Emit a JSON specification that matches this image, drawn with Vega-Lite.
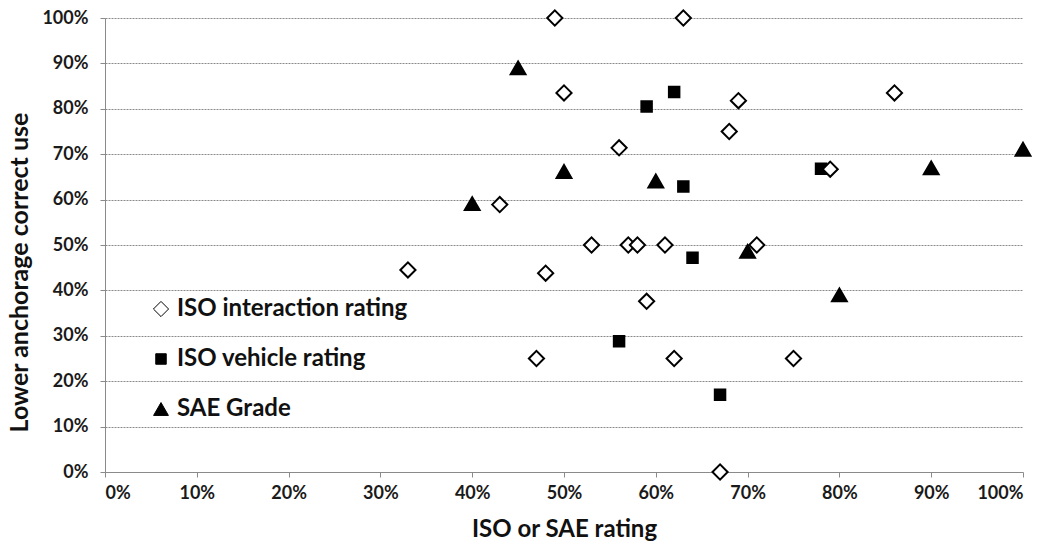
{
  "$schema": "https://vega.github.io/schema/vega-lite/v6.json",
  "width": 918,
  "height": 454,
  "autosize": "none",
  "padding": {"left": 105, "top": 18, "right": 26, "bottom": 73},
  "background": "white",
  "config": {
    "view": {"stroke": null},
    "font": "Lato"
  },
  "data": {
    "values": [
      {"series": "ISO vehicle rating", "rating": 0.59, "use": 0.805},
      {"series": "ISO vehicle rating", "rating": 0.62, "use": 0.837},
      {"series": "ISO vehicle rating", "rating": 0.63, "use": 0.629},
      {"series": "ISO vehicle rating", "rating": 0.78, "use": 0.668},
      {"series": "ISO vehicle rating", "rating": 0.64, "use": 0.472},
      {"series": "ISO vehicle rating", "rating": 0.56, "use": 0.288},
      {"series": "ISO vehicle rating", "rating": 0.67, "use": 0.17},
      {"series": "SAE Grade", "rating": 0.40, "use": 0.591},
      {"series": "SAE Grade", "rating": 0.45, "use": 0.89},
      {"series": "SAE Grade", "rating": 0.50, "use": 0.662},
      {"series": "SAE Grade", "rating": 0.60, "use": 0.641},
      {"series": "SAE Grade", "rating": 0.70, "use": 0.486},
      {"series": "SAE Grade", "rating": 0.80, "use": 0.39},
      {"series": "SAE Grade", "rating": 0.90, "use": 0.67},
      {"series": "SAE Grade", "rating": 1.00, "use": 0.711},
      {"series": "ISO interaction rating", "rating": 0.49, "use": 1.0},
      {"series": "ISO interaction rating", "rating": 0.63, "use": 1.0},
      {"series": "ISO interaction rating", "rating": 0.50, "use": 0.835},
      {"series": "ISO interaction rating", "rating": 0.69, "use": 0.818},
      {"series": "ISO interaction rating", "rating": 0.68, "use": 0.75},
      {"series": "ISO interaction rating", "rating": 0.56, "use": 0.714},
      {"series": "ISO interaction rating", "rating": 0.86, "use": 0.835},
      {"series": "ISO interaction rating", "rating": 0.79, "use": 0.667},
      {"series": "ISO interaction rating", "rating": 0.43, "use": 0.589},
      {"series": "ISO interaction rating", "rating": 0.53, "use": 0.5},
      {"series": "ISO interaction rating", "rating": 0.57, "use": 0.5},
      {"series": "ISO interaction rating", "rating": 0.58, "use": 0.5},
      {"series": "ISO interaction rating", "rating": 0.61, "use": 0.5},
      {"series": "ISO interaction rating", "rating": 0.71, "use": 0.5},
      {"series": "ISO interaction rating", "rating": 0.33, "use": 0.445},
      {"series": "ISO interaction rating", "rating": 0.48, "use": 0.438},
      {"series": "ISO interaction rating", "rating": 0.59, "use": 0.376},
      {"series": "ISO interaction rating", "rating": 0.47, "use": 0.25},
      {"series": "ISO interaction rating", "rating": 0.62, "use": 0.25},
      {"series": "ISO interaction rating", "rating": 0.75, "use": 0.25},
      {"series": "ISO interaction rating", "rating": 0.67, "use": 0.0}
    ]
  },
  "mark": {"type": "point", "filled": true, "stroke": "black", "strokeWidth": 2, "opacity": 1},
  "encoding": {
    "x": {
      "field": "rating", "type": "quantitative",
      "scale": {"domain": [0, 1], "nice": false, "zero": true},
      "axis": {
        "title": "ISO or SAE rating",
        "format": ".0%",
        "values": [0, 0.1, 0.2, 0.3, 0.4, 0.5, 0.6, 0.7, 0.8, 0.9, 1],
        "grid": false,
        "domainColor": "#8a8a8a",
        "tickColor": "#8a8a8a",
        "tickSize": 5,
        "labelFont": "Lato", "labelFontWeight": "bold", "labelFontSize": 18, "labelColor": "#1a1a1a",
        "labelPadding": 7,
        "titleFont": "Lato", "titleFontWeight": "bold", "titleFontSize": 24, "titleColor": "#111111",
        "titlePadding": 15
      }
    },
    "y": {
      "field": "use", "type": "quantitative",
      "scale": {"domain": [0, 1], "nice": false, "zero": true},
      "axis": {
        "title": "Lower anchorage correct use",
        "format": ".0%",
        "values": [0, 0.1, 0.2, 0.3, 0.4, 0.5, 0.6, 0.7, 0.8, 0.9, 1],
        "grid": true,
        "gridColor": "#8a8a8a",
        "gridDash": [2, 1],
        "gridWidth": 1,
        "domainColor": "#8a8a8a",
        "tickColor": "#8a8a8a",
        "tickSize": 5,
        "labelFont": "Lato", "labelFontWeight": "bold", "labelFontSize": 18, "labelColor": "#1a1a1a",
        "labelPadding": 12,
        "titleFont": "Lato", "titleFontWeight": "bold", "titleFontSize": 25, "titleColor": "#111111",
        "titlePadding": 9,
        "titleY": 254
      }
    },
    "shape": {
      "field": "series", "type": "nominal",
      "scale": {"domain": ["ISO interaction rating", "ISO vehicle rating", "SAE Grade"], "range": ["diamond", "square", "triangle-up"]},
      "legend": {
        "title": null,
        "orient": "none",
        "legendX": 44,
        "legendY": 279,
        "labelFont": "Lato", "labelFontWeight": "bold", "labelFontSize": 24, "labelColor": "#111111",
        "labelOffset": 4,
        "labelLimit": 500,
        "rowPadding": 26,
        "symbolStrokeColor": "black",
        "symbolStrokeWidth": 1
      }
    },
    "fill": {
      "field": "series", "type": "nominal",
      "scale": {"domain": ["ISO interaction rating", "ISO vehicle rating", "SAE Grade"], "range": ["white", "black", "black"]}
    },
    "size": {
      "field": "series", "type": "nominal",
      "scale": {"type": "ordinal", "domain": ["ISO interaction rating", "ISO vehicle rating", "SAE Grade"], "range": [230, 110, 220]}
    }
  }
}
